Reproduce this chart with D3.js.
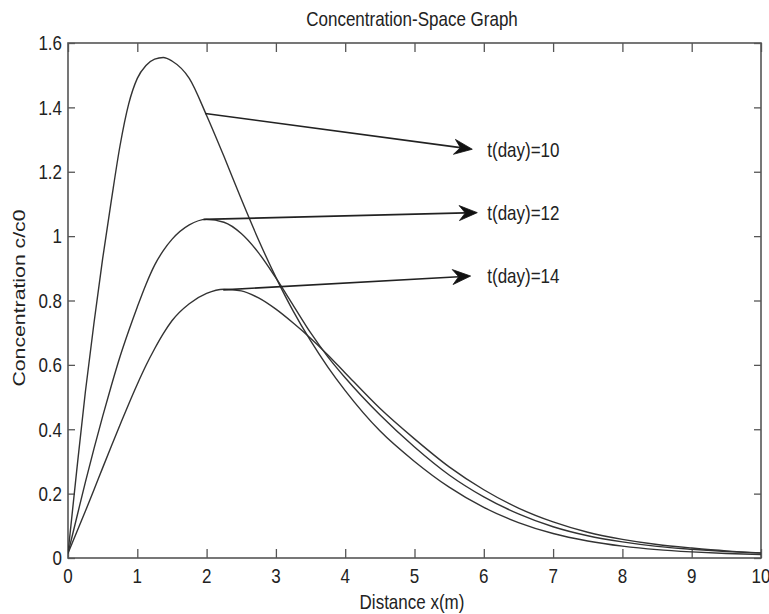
<!DOCTYPE html>
<html>
<head>
<meta charset="utf-8">
<script src="https://cdn.jsdelivr.net/npm/d3@7"></script>
<style>
  html, body { margin: 0; padding: 0; background: #fff; }
  svg { display: block; }
  text { font-family: "Liberation Sans", Arial, sans-serif; fill: #222; }
</style>
</head>
<body>
<svg id="chart" width="769" height="614"></svg>
<script>
// ---- data ----
const xs  = [0, 0.125, 0.25, 0.375, 0.5, 0.625, 0.75, 0.875, 1, 1.125, 1.25, 1.375, 1.5, 1.75, 2, 2.25, 2.5, 2.75, 3, 3.25, 3.5, 3.75, 4, 4.5, 5, 5.5, 6, 6.5, 7, 7.5, 8, 8.5, 9, 9.5, 10];
const t10 = [0.015, 0.27, 0.515, 0.73, 0.93, 1.11, 1.28, 1.41, 1.49, 1.53, 1.55, 1.555, 1.544, 1.49, 1.375, 1.248, 1.115, 0.988, 0.872, 0.767, 0.675, 0.593, 0.52, 0.395, 0.30, 0.22, 0.157, 0.11, 0.076, 0.053, 0.037, 0.026, 0.019, 0.014, 0.011];
const t12 = [0.015, 0.125, 0.235, 0.34, 0.44, 0.535, 0.625, 0.705, 0.78, 0.85, 0.91, 0.955, 0.99, 1.035, 1.052, 1.043, 1.008, 0.948, 0.87, 0.785, 0.70, 0.625, 0.56, 0.445, 0.345, 0.258, 0.19, 0.137, 0.097, 0.069, 0.05, 0.036, 0.027, 0.02, 0.015];
const t14 = [0.015, 0.08, 0.145, 0.212, 0.28, 0.347, 0.413, 0.478, 0.54, 0.598, 0.65, 0.697, 0.737, 0.79, 0.822, 0.835, 0.83, 0.808, 0.773, 0.73, 0.683, 0.631, 0.575, 0.465, 0.37, 0.283, 0.212, 0.155, 0.112, 0.08, 0.058, 0.042, 0.031, 0.022, 0.016];
const seriesNames = ["t(day)=10", "t(day)=12", "t(day)=14"];
const arrowStart = [[1.98, 1.381], [1.955, 1.052], [2.24, 0.833]];
const arrowEnd   = [[5.834, 1.270], [5.906, 1.073], [5.81, 0.876]];
const labelX = 6.05;
const xTicks = [0, 1, 2, 3, 4, 5, 6, 7, 8, 9, 10];
const yTicks = [0, 0.2, 0.4, 0.6, 0.8, 1.0, 1.2, 1.4, 1.6];
const yTickLabels = ["0", "0.2", "0.4", "0.6", "0.8", "1", "1.2", "1.4", "1.6"];
const titleText = "Concentration-Space Graph";
const xLabel = "Distance x(m)";
const yLabel = "Concentration c/c0";

// ---- layout ----
const L = 68, R = 761, T = 43, B = 558;
const svg = d3.select("#chart");
const x = d3.scaleLinear().domain([0, 10]).range([L, R]);
const y = d3.scaleLinear().domain([0, 1.6]).range([B, T]);
const FS = 17, VS = 1.2;

function stext(g, px, py, str, anchor) {
  return g.append("text")
    .attr("transform", `translate(${px},${py}) scale(1,${VS})`)
    .attr("text-anchor", anchor)
    .attr("font-size", FS)
    .text(str);
}

// clip
svg.append("defs").append("clipPath").attr("id", "clip")
  .append("rect").attr("x", L).attr("y", T).attr("width", R - L).attr("height", B - T);

// axes ticks (inward, on all four sides)
const axisColor = "#555";
function styleAxis(g) {
  g.select(".domain").remove();
  g.selectAll(".tick line").attr("stroke", axisColor).attr("stroke-width", 1.3);
  g.selectAll(".tick text").remove();
}
svg.append("g").attr("transform", `translate(0,${B})`)
  .call(d3.axisBottom(x).tickValues(xTicks).tickSize(-9).tickFormat("")).call(styleAxis);
svg.append("g").attr("transform", `translate(0,${T})`)
  .call(d3.axisTop(x).tickValues(xTicks).tickSize(-9).tickFormat("")).call(styleAxis);
svg.append("g").attr("transform", `translate(${L},0)`)
  .call(d3.axisLeft(y).tickValues(yTicks).tickSize(-7).tickFormat("")).call(styleAxis);
svg.append("g").attr("transform", `translate(${R},0)`)
  .call(d3.axisRight(y).tickValues(yTicks).tickSize(-7).tickFormat("")).call(styleAxis);

// box
svg.append("rect").attr("x", L).attr("y", T).attr("width", R - L).attr("height", B - T)
  .attr("fill", "none").attr("stroke", axisColor).attr("stroke-width", 1.6);

// tick labels
const lab = svg.append("g");
xTicks.forEach(v => stext(lab, x(v), 583, String(v), "middle"));
yTicks.forEach((v, i) => stext(lab, 62, y(v) + 7.3, yTickLabels[i], "end"));

// title and axis labels
stext(svg, 412, 26, titleText, "middle");
stext(svg, 412, 609, xLabel, "middle");
svg.append("text")
  .attr("transform", `translate(25,298) rotate(-90) scale(1.25,1)`)
  .attr("text-anchor", "middle").attr("font-size", FS).text(yLabel);

// curves
const line = d3.line().x(d => x(d[0])).y(d => y(d[1])).curve(d3.curveMonotoneX);
const series = [t10, t12, t14];
const cg = svg.append("g").attr("clip-path", "url(#clip)");
series.forEach(s => {
  cg.append("path").datum(xs.map((v, i) => [v, s[i]]))
    .attr("d", line).attr("fill", "none").attr("stroke", "#333").attr("stroke-width", 1.4);
});

// annotation arrows
const ag = svg.append("g");
arrowStart.forEach((s, i) => {
  const x0 = x(s[0]), y0 = y(s[1]);
  const x1 = x(arrowEnd[i][0]), y1 = y(arrowEnd[i][1]);
  const ang = Math.atan2(y1 - y0, x1 - x0);
  const len = 18, hw = 7.5, notch = 12;
  const ux = Math.cos(ang), uy = Math.sin(ang);
  const nx = -uy, ny = ux;
  const bx = x1 - ux * len, by = y1 - uy * len;
  const mx = x1 - ux * notch, my = y1 - uy * notch;
  ag.append("line").attr("x1", x0).attr("y1", y0).attr("x2", mx).attr("y2", my)
    .attr("stroke", "#222").attr("stroke-width", 1.6);
  ag.append("path")
    .attr("d", `M${x1},${y1} L${bx + nx * hw},${by + ny * hw} L${mx},${my} L${bx - nx * hw},${by - ny * hw} Z`)
    .attr("fill", "#111").attr("stroke", "#111").attr("stroke-width", 0.8);
  stext(ag, x(labelX), y1 + 7.3, seriesNames[i], "start");
});
</script>
</body>
</html>
